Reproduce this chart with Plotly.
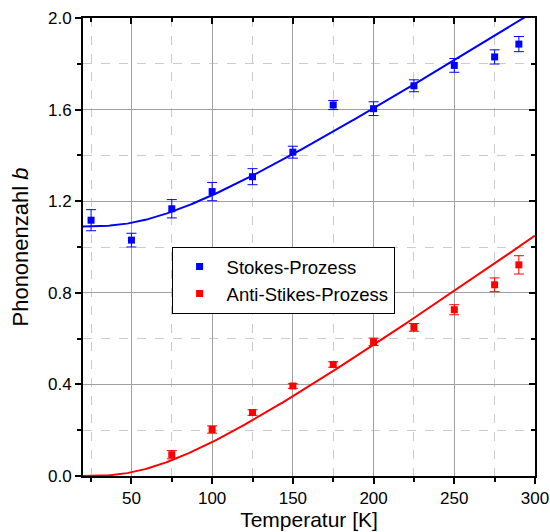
import numpy as np
import plotly.graph_objects as go

# Measured phonon occupation numbers
temp_stokes = [25, 50, 75, 100, 125, 150, 175, 200, 225, 250, 275, 290]
b_stokes = [1.117, 1.030, 1.167, 1.242, 1.307, 1.414, 1.620, 1.604, 1.704, 1.793, 1.830, 1.886]
err_stokes = [0.046, 0.030, 0.040, 0.040, 0.035, 0.026, 0.020, 0.030, 0.026, 0.030, 0.031, 0.033]

temp_anti = [75, 100, 125, 150, 175, 200, 225, 250, 275, 290]
b_anti = [0.093, 0.203, 0.277, 0.393, 0.487, 0.586, 0.649, 0.726, 0.835, 0.922]
err_anti = [0.018, 0.016, 0.012, 0.010, 0.012, 0.016, 0.017, 0.022, 0.030, 0.040]

# Bose-Einstein fit parameters: b = offset + A / (exp(theta/T) - 1)
fit_stokes = dict(offset=1.09, amp=0.922, theta=205.0)
fit_anti = dict(offset=0.0, amp=1.064, theta=210.0)

x_range = [20, 300]
y_range = [0, 2.0]

FONT = "Liberation Sans"
BLUE = "#0000FF"
RED = "#FF0000"


def bose(T, offset, amp, theta):
    return offset + amp / (np.exp(theta / T) - 1.0)


T_fit = np.linspace(x_range[0], x_range[1], 300)

fig = go.Figure()

fig.add_trace(go.Scatter(
    x=T_fit, y=bose(T_fit, **fit_stokes), mode="lines",
    line=dict(color=BLUE, width=2), showlegend=False, hoverinfo="skip"))
fig.add_trace(go.Scatter(
    x=T_fit, y=bose(T_fit, **fit_anti), mode="lines",
    line=dict(color=RED, width=2), showlegend=False, hoverinfo="skip"))

fig.add_trace(go.Scatter(
    x=temp_stokes, y=b_stokes, mode="markers", name="Stokes-Prozess",
    marker=dict(symbol="square", size=7, color=BLUE),
    error_y=dict(type="data", array=err_stokes, color=BLUE, thickness=1, width=5)))
fig.add_trace(go.Scatter(
    x=temp_anti, y=b_anti, mode="markers", name="Anti-Stikes-Prozess",
    marker=dict(symbol="square", size=7, color=RED),
    error_y=dict(type="data", array=err_anti, color=RED, thickness=1, width=5)))

# empty trace that carries the mirrored top/right axes
fig.add_trace(go.Scatter(x=[None], y=[None], xaxis="x2", yaxis="y2",
                         showlegend=False, hoverinfo="skip"))

axis_common = dict(
    automargin=False,
    showline=True, linecolor="black", linewidth=2,
    showgrid=True, gridcolor="#a0a0a0", gridwidth=1,
    zeroline=False, ticks="outside", ticklen=6, tickwidth=1.5, tickcolor="black",
    tickfont=dict(family=FONT, size=17, color="black"),
)

mirror_common = dict(
    automargin=False,
    showline=True, linecolor="black", linewidth=2,
    ticks="inside", ticklen=6, tickwidth=1.5, tickcolor="black",
    showticklabels=False, showgrid=False, zeroline=False,
)

fig.update_layout(
    width=550, height=532,
    margin=dict(l=83, r=15, t=18, b=56, autoexpand=False),
    paper_bgcolor="white", plot_bgcolor="white",
    font=dict(family=FONT, color="black"),
    xaxis=dict(
        **axis_common, range=x_range, tick0=0, dtick=50,
        minor=dict(dtick=25, ticks="outside", ticklen=4, tickcolor="black",
                   showgrid=True, gridcolor="#cccccc", griddash="dash", gridwidth=1),
        title=dict(text="Temperatur [K]", font=dict(family=FONT, size=21), standoff=4),
    ),
    yaxis=dict(
        **axis_common, range=y_range, tick0=0, dtick=0.4, tickformat=".1f",
        minor=dict(dtick=0.2, ticks="outside", ticklen=4, tickcolor="black",
                   showgrid=True, gridcolor="#cccccc", griddash="dash", gridwidth=1),
        title=dict(text="Phononenzahl <i>b</i>", font=dict(family=FONT, size=22), standoff=13),
    ),
    xaxis2=dict(
        **mirror_common, overlaying="x", side="top", range=x_range, tick0=0, dtick=50,
        minor=dict(dtick=25, ticks="inside", ticklen=4, tickcolor="black"),
    ),
    yaxis2=dict(
        **mirror_common, overlaying="y", side="right", range=y_range, tick0=0, dtick=0.4,
        minor=dict(dtick=0.2, ticks="inside", ticklen=4, tickcolor="black"),
    ),
    legend=dict(
        x=0.196, y=0.50, xanchor="left", yanchor="top",
        bgcolor="white", bordercolor="black", borderwidth=1,
        font=dict(family=FONT, size=18.5, color="black"),
        itemwidth=44, tracegroupgap=0,
    ),
)

fig.write_html("out.html")
